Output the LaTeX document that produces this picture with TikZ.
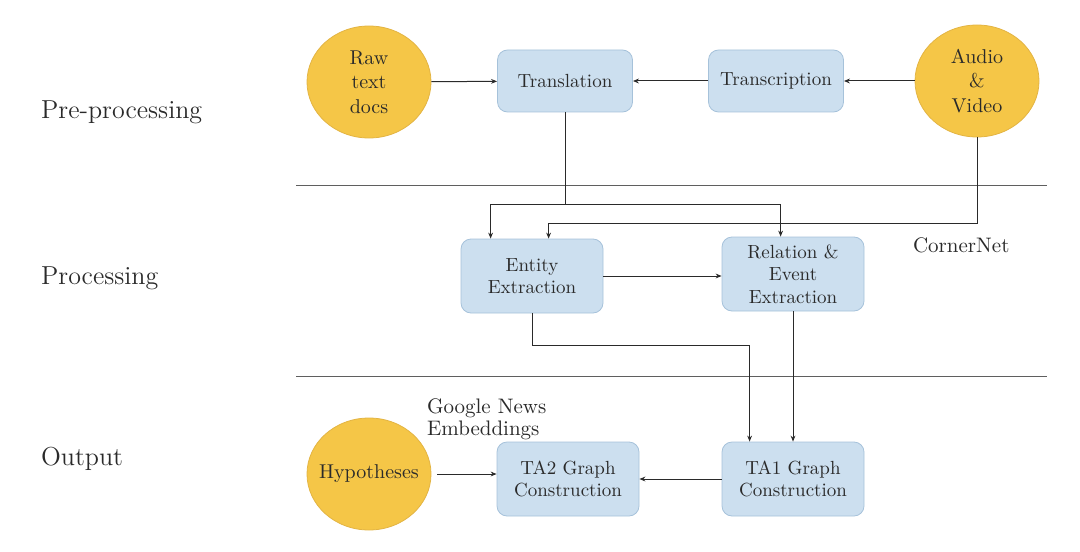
\documentclass[tikz,border=0pt]{standalone}
\usepackage{tikz}
\usetikzlibrary{positioning, shapes.geometric, arrows.meta}
\usepackage{xcolor}
\definecolor{srcgold}{HTML}{F5C647}
\definecolor{srcedge}{HTML}{E3B443}
\definecolor{stepblue}{HTML}{CCDFEF}
\definecolor{stepedge}{HTML}{A6C2DA}
\definecolor{ink}{HTML}{2A2A2A}

\begin{document}
\begin{tikzpicture}[x=0.5pt, y=-0.5pt,
		source/.style={draw=srcedge, fill=srcgold, ellipse, minimum width=62pt, minimum height=56pt, inner sep=0pt, align=center, font=\fontsize{10}{12.2}\selectfont, text=ink},
		stepbox/.style={draw=stepedge, fill=stepblue, rounded corners=5pt, minimum width=71pt, minimum height=37pt, align=center, font=\fontsize{9.5}{11.2}\selectfont, text=ink},
		stage/.style={anchor=west, font=\fontsize{13}{15}\selectfont, text=ink},
		note/.style={align=left, font=\fontsize{10.5}{11}\selectfont, text=ink},
		arr/.style={draw=ink, line width=0.5pt, -{Stealth[length=3pt, width=2.4pt]}},
		link/.style={draw=ink, line width=0.5pt},
		rule/.style={draw=ink!75, line width=0.5pt}]
		\useasboundingbox (0,0) rectangle (1080,551);

		% stage labels and separators
		\node[stage] (pre)  at (34,112) {Pre-processing};
		\node[stage] (proc) at (34,278) {Processing};
		\node[stage] (out)  at (34,459) {Output};
		\draw[rule] (296,185) -- (1047,185);
		\draw[rule] (296,376) -- (1047,376);

		% pre-processing
		\node[source]                            (raw)         at (369,82)  {Raw\\text\\docs};
		\node[stepbox, minimum width=67.5pt, minimum height=31pt] (translation) at (565,81) {Translation};
		\node[stepbox, minimum width=67.5pt, minimum height=31pt] (transcription) at (776,81) {Transcription};
		\node[source]                            (audio)       at (977,81)  {Audio\\\&\\Video};

		% processing
		\node[stepbox]                           (entity)      at (532,276) {Entity\\Extraction};
		\node[stepbox]                           (relation)    at (793,274) {Relation \&\\Event\\Extraction};
		\node[note, anchor=west]                 (cornernet)   at (906,245) {CornerNet};

		% output
		\node[stepbox]                           (ta1)         at (793,479) {TA1 Graph\\Construction};
		\node[stepbox]                           (ta2)         at (568,479) {TA2 Graph\\Construction};
		\node[source, inner xsep=-5pt]           (hyp)         at (369,474) {Hypotheses};
		\node[note, anchor=west]                 (google)      at (420,419) {Google News\\Embeddings};

		% connectors
		\draw[arr] (raw) -- (translation);
		\draw[arr] (transcription) -- (translation);
		\draw[arr] (audio) -- (transcription);
		\draw[link] (translation.south) -- ++(0,92) coordinate (split);
		\draw[arr] (split) -| ([xshift=15pt]entity.north west);
		\draw[arr] (split) -| ([xshift=29.5pt]relation.north west);
		\draw[arr] (audio.south) -- ++(0,86) -| ([xshift=44pt]entity.north west);
		\draw[arr] (entity.east) -- (entity.east -| relation.west);
		\draw[arr] (entity.south) -- ++(0,32) -| ([xshift=14pt]ta1.north west);
		\draw[arr] (relation.south) -- (ta1.north);
		\draw[arr] (ta1) -- (ta2);
		\draw[arr] ([xshift=3pt]hyp.east) -- (ta2.west |- hyp.east);
	\end{tikzpicture}
\end{document}
